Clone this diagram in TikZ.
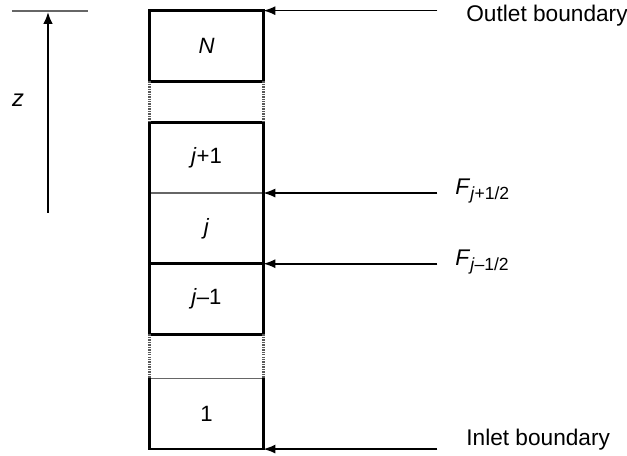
\documentclass[tikz,border=0pt]{standalone}
\usepackage{fontspec}
\setmainfont{Liberation Sans}
\usetikzlibrary{arrows.meta,positioning}

\newcommand{\subfx}[1]{\raisebox{-0.45ex}{\fontsize{10}{12}\selectfont #1}}

\begin{document}
\begin{tikzpicture}[x=0.02cm,y=-0.02cm,
        cell/.style={minimum width=2.26cm,minimum height=1.4cm,inner sep=0pt,font=\fontsize{12.6}{14}\selectfont},
        wall/.style={line width=1.4pt},
        seam/.style={line width=0.8pt,black!60},
        gap/.style={line width=1.4pt,black!65,dash pattern=on 0.8pt off 0.6pt},
        flux/.style={line width=0.9pt,-{Latex[length=2.4mm,width=1.8mm]}},
        lbl/.style={anchor=west,inner sep=0pt,font=\fontsize{12.9}{15}\selectfont}]
    \useasboundingbox (0,0) rectangle (627,456);
    % column of cells
    \node[cell] (cN) at (206.5,46) {\textit{N}};
    \node[cell,below=0.82cm of cN] (cjp) {\textit{j}+1};
    \node[cell,below=0pt of cjp] (cj) {\textit{j}};
    \node[cell,below=0pt of cj] (cjm) {\textit{j}--1};
    \node[cell,below=0.88cm of cjm] (c1) {1};
    \draw[seam] (cjp.south west) -- (cjp.south east);
    \draw[seam] (c1.north west) -- (c1.north east);
    \draw[wall] (cN.south west) rectangle (cN.north east);
    \draw[wall] (cjp.north west) rectangle (cjm.south east);
    \draw[wall] (cj.south west) -- (cj.south east);
    \draw[wall] (c1.north west) -- (c1.south west) -- (c1.south east) -- (c1.north east);
    \draw[gap] (cN.south west) -- (cjp.north west);
    \draw[gap] (cN.south east) -- (cjp.north east);
    \draw[gap] (cjm.south west) -- (c1.north west);
    \draw[gap] (cjm.south east) -- (c1.north east);
    % boundaries and fluxes
    \coordinate (outS) at ([xshift=3.48cm]cN.north east);
    \coordinate (fpS) at ([xshift=3.48cm]cjp.south east);
    \coordinate (fmS) at ([xshift=3.48cm]cj.south east);
    \coordinate (inS) at ([xshift=3.48cm]c1.south east);
    \draw[flux] (outS) -- (cN.north east);
    \draw[flux,line width=0.7pt] (fpS) -- (cjp.south east);
    \draw[flux] (fmS) -- (cj.south east);
    \draw[flux] (inS) -- (c1.south east);
    \node[lbl] (outlet) at (466,16) {Outlet boundary};
    \node[lbl] (fp) at (455,191) {\textit{F}\subfx{\textit{j}+1/2}};
    \node[lbl] (fm) at (455,262) {\textit{F}\subfx{\textit{j}--1/2}};
    \node[lbl] (inlet) at (466,440) {Inlet boundary};
    % z axis
    \coordinate (zbot) at (48,213);
    \coordinate (ztop) at (48,12);
    \draw[seam] (12,11) -- (88,11);
    \draw[line width=1.4pt,-{Latex[length=2.4mm,width=2mm]}] (zbot) -- (ztop);
    \node[font=\fontsize{13.5}{15}\selectfont] (zlbl) at (18,100) {\textit{z}};
\end{tikzpicture}
\end{document}
